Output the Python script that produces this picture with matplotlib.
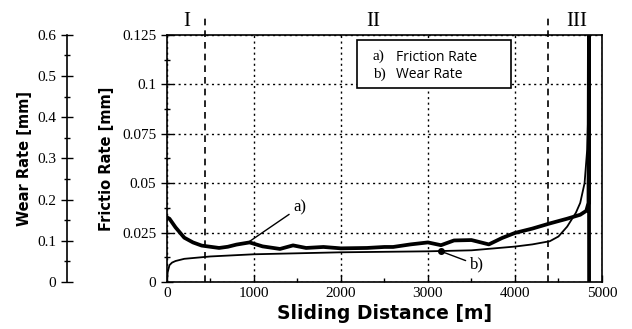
import numpy as np
import matplotlib
matplotlib.use("Agg")
import matplotlib.pyplot as plt
from matplotlib.ticker import MultipleLocator, FixedLocator
from matplotlib.patches import Rectangle

# ---------- data ----------
fric_x = [0, 30, 100, 200, 300, 400, 500, 600, 700, 800, 950, 1100, 1300, 1450, 1600,
          1800, 2000, 2300, 2500, 2600, 2800, 3000, 3150, 3300, 3500, 3700, 3850, 4000,
          4200, 4400, 4600, 4750, 4820, 4845, 4850, 4852]
fric_y = [0.0327, 0.032, 0.0276, 0.0224, 0.020, 0.0184, 0.0178, 0.0172, 0.0178, 0.0189,
          0.020, 0.018, 0.0167, 0.0185, 0.0172, 0.0177, 0.017, 0.0172, 0.0177, 0.0177,
          0.019, 0.020, 0.0186, 0.021, 0.0212, 0.019, 0.0222, 0.0248, 0.027, 0.0296,
          0.032, 0.034, 0.036, 0.04, 0.125, 0.0]

wear_x = [0, 10, 30, 60, 100, 200, 500, 1000, 2000, 3000, 3500, 4000, 4200, 4400, 4500,
          4600, 4700, 4750, 4800, 4830, 4845, 4850]
wear_y = [0.0, 0.005, 0.0085, 0.0098, 0.0106, 0.0117, 0.0129, 0.014, 0.015, 0.0155,
          0.016, 0.0179, 0.019, 0.0206, 0.023, 0.028, 0.035, 0.040, 0.050, 0.067,
          0.09, 0.125]

zone_bounds = [437, 4385]
zone_names = ["I", "II", "III"]
zone_label_x = [230, 2370, 4710]

x_ticks = [0, 1000, 2000, 3000, 4000, 5000]
fric_ticks = [0, 0.025, 0.05, 0.075, 0.1, 0.125]
fric_labels = ["0", "0.025", "0.05", "0.075", "0.1", "0.125"]
wear_ticks = [0, 0.1, 0.2, 0.3, 0.4, 0.5, 0.6]
wear_labels = ["0", "0.1", "0.2", "0.3", "0.4", "0.5", "0.6"]

serif = "Liberation Serif"
bold = "DejaVu Sans"

fig = plt.figure(figsize=(6.32, 3.29), dpi=100)
ax = fig.add_axes([0.264, 0.143, 0.6885, 0.751])

ax.plot(fric_x, fric_y, color="black", lw=2.7, solid_joinstyle="round")
ax.plot(wear_x, wear_y, color="black", lw=1.3)

ax.set_xlim(0, 5000)
ax.set_ylim(0, 0.125)
ax.xaxis.set_major_locator(FixedLocator(x_ticks))
ax.xaxis.set_minor_locator(MultipleLocator(500))
ax.yaxis.set_major_locator(FixedLocator(fric_ticks))
ax.set_yticklabels(fric_labels)
ax.yaxis.set_minor_locator(MultipleLocator(0.0125))
ax.tick_params(axis="y", which="major", direction="inout", length=8, width=1,
               labelsize=11)
ax.tick_params(axis="y", which="minor", direction="inout", length=5, width=1)
ax.tick_params(axis="x", which="major", direction="in", length=5, width=1,
               labelsize=11)
ax.tick_params(axis="x", which="minor", direction="in", length=3, width=1)
for lab in ax.get_xticklabels() + ax.get_yticklabels():
    lab.set_fontfamily(serif)
for s in ax.spines.values():
    s.set_linewidth(1.2)

ax.grid(True, which="major", linestyle=(0, (1.5, 2.5)), color="black", lw=1)

# zone separators, run a bit above the frame
for xb in zone_bounds:
    ax.plot([xb, xb], [0, 0.1355], color="black", lw=1.2, linestyle=(0, (4, 3)),
            clip_on=False)
for xn, nm in zip(zone_label_x, zone_names):
    ax.text(xn, 0.1268, nm, family=serif, fontsize=15, ha="center", va="bottom")

ax.set_xlabel("Sliding Distance [m]", family=bold, fontweight="bold", fontsize=13.5,
              labelpad=3)
ax.set_ylabel("Frictio Rate [mm]", family=bold, fontweight="bold", fontsize=10.5,
              labelpad=6)

# legend box with labels only
ax.add_patch(Rectangle((0.437, 0.785), 0.354, 0.195, transform=ax.transAxes,
                       fill=True, facecolor="white", edgecolor="black", lw=1.2,
                       zorder=5))
ax.text(0.473, 0.915, "a)", transform=ax.transAxes, family=serif, fontsize=11,
        va="center", zorder=6)
ax.text(0.526, 0.91, "Friction Rate", transform=ax.transAxes, family="Open Sans",
        fontsize=10, va="center", zorder=6)
ax.text(0.473, 0.84, "b)", transform=ax.transAxes, family=serif, fontsize=11,
        va="center", zorder=6)
ax.text(0.526, 0.84, "Wear Rate", transform=ax.transAxes, family="Open Sans",
        fontsize=10, va="center", zorder=6)

# curve callouts
ax.annotate("a)", xy=(950, 0.0205), xytext=(1450, 0.0378), family=serif, fontsize=12,
            va="center", ha="left",
            arrowprops=dict(arrowstyle="-", color="black", lw=1, shrinkA=1, shrinkB=0))
ax.annotate("b)", xy=(3150, 0.0155), xytext=(3480, 0.0087), family=serif, fontsize=12,
            va="center", ha="left",
            arrowprops=dict(arrowstyle="-", color="black", lw=1, shrinkA=1, shrinkB=0))
ax.plot([3150], [0.0155], "o", color="black", ms=4)

# outer wear axis, only its left spine
ax2 = ax.twinx()
ax2.set_ylim(0, 0.6)
ax2.spines["right"].set_visible(False)
ax2.spines["top"].set_visible(False)
ax2.spines["bottom"].set_visible(False)
ax2.spines["left"].set_position(("axes", -0.23))
ax2.spines["left"].set_linewidth(1.2)
ax2.yaxis.set_ticks_position("left")
ax2.yaxis.set_label_position("left")
ax2.yaxis.set_major_locator(FixedLocator(wear_ticks))
ax2.set_yticklabels(wear_labels)
ax2.yaxis.set_minor_locator(MultipleLocator(0.05))
ax2.tick_params(axis="y", which="major", direction="inout", length=8, width=1,
                labelsize=11)
ax2.tick_params(axis="y", which="minor", direction="inout", length=5, width=1)
for lab in ax2.get_yticklabels():
    lab.set_fontfamily(serif)
ax2.set_ylabel("Wear Rate [mm]", family=bold, fontweight="bold", fontsize=10.5,
               labelpad=4)

fig.savefig("out.png", dpi=100)
